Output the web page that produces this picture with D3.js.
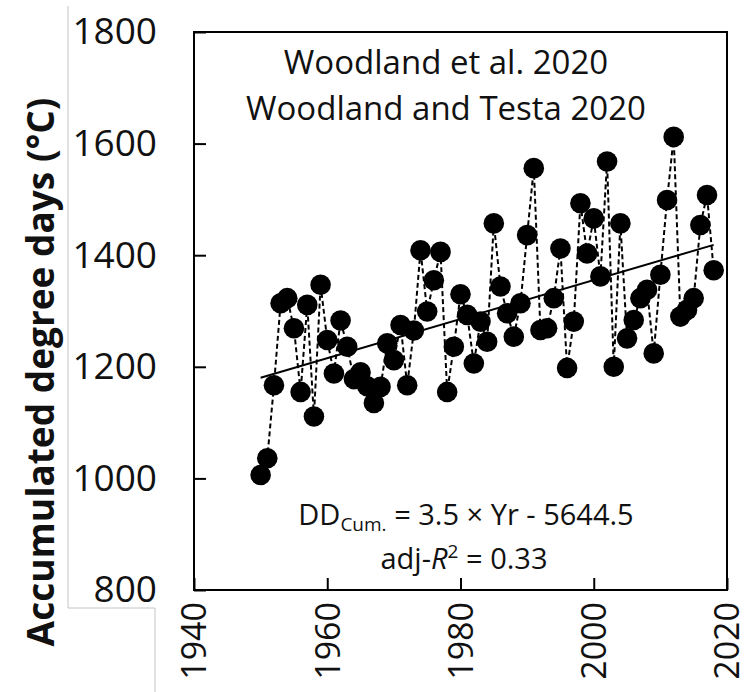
<!DOCTYPE html>
<html>
<head>
<meta charset="utf-8">
<script src="https://cdn.jsdelivr.net/npm/d3@7"></script>
<style>
  html, body { margin: 0; padding: 0; background: #fff; }
  svg { display: block; font-family: 'Open Sans', sans-serif; }
</style>
</head>
<body>
<svg id="chart" width="750" height="692"></svg>
<script>
// values
const years = d3.range(1950, 2019);
const degree_days = [
  1006, 1036, 1167, 1314, 1323, 1269, 1155, 1311, 1111, 1347,
  1248, 1188, 1283, 1236, 1178, 1190, 1165, 1135, 1164, 1242,
  1212, 1275, 1167, 1265, 1409, 1299, 1355, 1406, 1155, 1236,
  1330, 1293, 1206, 1281, 1245, 1457, 1344, 1296, 1254, 1314,
  1436, 1556, 1266, 1269, 1323, 1412, 1198, 1281, 1493, 1403,
  1466, 1362, 1568, 1200, 1457, 1251, 1284, 1323, 1338, 1224,
  1365, 1499, 1612, 1290, 1302, 1323, 1454, 1508, 1373
];
const trend_slope = 3.5;
const trend_intercept = -5644.5;
const x_ticks = [1940, 1960, 1980, 2000, 2020];
const y_ticks = [800, 1000, 1200, 1400, 1600, 1800];
const source_lines = ['Woodland et al. 2020', 'Woodland and Testa 2020'];

const svg = d3.select('#chart');
const box = { left: 194, right: 727, top: 32, bottom: 590 };

const x = d3.scaleLinear().domain([1940, 2020]).range([box.left, box.right]);
const y = d3.scaleLinear().domain([800, 1800]).range([box.bottom, box.top]);

// cropped frame lines from the original figure
svg.append('path')
  .attr('d', `M68,6V608H155V692`)
  .attr('fill', 'none')
  .attr('stroke', '#c4c4c4')
  .attr('stroke-width', 1);

const data = years.map((yr, i) => ({ yr, dd: degree_days[i] }));

// dashed connecting line
svg.append('path')
  .datum(data)
  .attr('fill', 'none')
  .attr('stroke', '#000')
  .attr('stroke-width', 2)
  .attr('stroke-dasharray', '5,3')
  .attr('d', d3.line().x(d => x(d.yr)).y(d => y(d.dd)));

// points
svg.append('g')
  .selectAll('circle')
  .data(data)
  .join('circle')
  .attr('cx', d => x(d.yr))
  .attr('cy', d => y(d.dd))
  .attr('r', 10.3)
  .attr('fill', '#000');

// trend line
const trend = d => trend_slope * d + trend_intercept;
const yr_ext = d3.extent(years);
svg.append('line')
  .attr('x1', x(yr_ext[0]))
  .attr('y1', y(trend(yr_ext[0])))
  .attr('x2', x(yr_ext[1]))
  .attr('y2', y(trend(yr_ext[1])))
  .attr('stroke', '#000')
  .attr('stroke-width', 2);

// frame
svg.append('rect')
  .attr('x', box.left)
  .attr('y', box.top)
  .attr('width', box.right - box.left)
  .attr('height', box.bottom - box.top)
  .attr('fill', 'none')
  .attr('stroke', '#000')
  .attr('stroke-width', 2);

// axes
const axis_y = d3.axisLeft(y)
  .tickValues(y_ticks)
  .tickFormat(d3.format('d'))
  .tickSizeInner(-12)
  .tickSizeOuter(0)
  .tickPadding(37);

svg.append('g')
  .attr('class', 'axis axis-y')
  .attr('transform', `translate(${box.left},0)`)
  .call(axis_y)
  .call(g => g.select('.domain').remove())
  .call(g => g.selectAll('line').attr('stroke-width', 2))
  .call(g => g.selectAll('text')
    .attr('font-size', 37)
    .attr('font-family', 'Open Sans')
    .attr('fill', '#111'));

const axis_x = d3.axisBottom(x)
  .tickValues(x_ticks)
  .tickFormat(d3.format('d'))
  .tickSizeInner(-12)
  .tickSizeOuter(0);

svg.append('g')
  .attr('class', 'axis axis-x')
  .attr('transform', `translate(0,${box.bottom})`)
  .call(axis_x)
  .call(g => g.select('.domain').remove())
  .call(g => g.selectAll('line').attr('stroke-width', 2))
  .call(g => g.selectAll('text')
    .attr('transform', 'rotate(-90)')
    .attr('text-anchor', 'end')
    .attr('x', -12)
    .attr('y', 0)
    .attr('dy', '0.35em')
    .attr('font-size', 34)
    .attr('font-family', 'Open Sans')
    .attr('fill', '#111'));

// y title
svg.append('text')
  .attr('transform', 'translate(54,372) rotate(-90)')
  .attr('text-anchor', 'middle')
  .attr('font-size', 37)
  .attr('font-weight', 'bold')
  .attr('fill', '#111')
  .text('Accumulated degree days (°C)');

// source text
svg.append('g')
  .selectAll('text')
  .data(source_lines)
  .join('text')
  .attr('x', 446)
  .attr('y', (d, i) => 74 + i * 46)
  .attr('text-anchor', 'middle')
  .attr('font-size', 33)
  .attr('fill', '#111')
  .text(d => d);

// equation
const eq = svg.append('text')
  .attr('x', 466)
  .attr('y', 525)
  .attr('text-anchor', 'middle')
  .attr('font-size', 29)
  .attr('fill', '#111');
eq.append('tspan').text('DD');
eq.append('tspan').attr('font-size', 19).attr('dy', 6).text('Cum.');
eq.append('tspan').attr('dy', -6).text(` = ${trend_slope} × Yr - ${-trend_intercept}`);

const r2 = svg.append('text')
  .attr('x', 464)
  .attr('y', 569)
  .attr('text-anchor', 'middle')
  .attr('font-size', 29)
  .attr('fill', '#111');
r2.append('tspan').text('adj-');
r2.append('tspan').attr('font-style', 'italic').text('R');
r2.append('tspan').attr('font-size', 19).attr('dy', -11).text('2');
r2.append('tspan').attr('dy', 11).text(' = 0.33');
</script>
</body>
</html>
